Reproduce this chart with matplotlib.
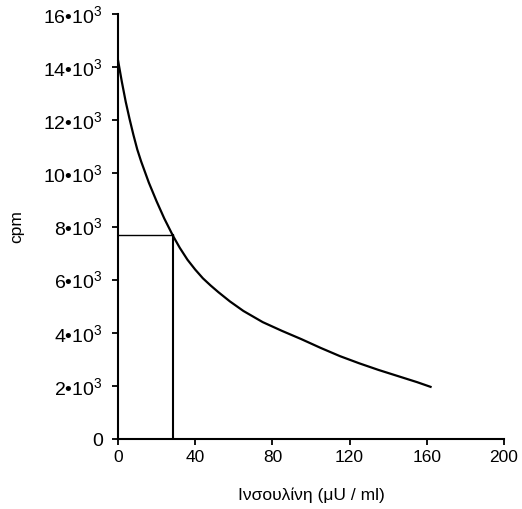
import matplotlib
matplotlib.use("Agg")
import matplotlib.pyplot as plt

plt.rcParams['font.family'] = ['Liberation Sans', 'DejaVu Sans']
plt.rcParams['mathtext.fontset'] = 'custom'
plt.rcParams['mathtext.rm'] = 'Liberation Sans'
plt.rcParams['mathtext.it'] = 'Liberation Sans'

# curve data (insulin µU/ml vs cpm)
insulin = [0, 2, 4, 6, 8, 10, 12, 14, 16, 18, 20, 24, 28.5, 32, 36, 40, 44, 48, 52,
           58, 65, 75, 85, 95, 105, 115, 125, 135, 145, 155, 162.5]
cpm = [14270, 13450, 12700, 12050, 11450, 10900, 10450, 10050, 9650, 9300, 8950,
       8300, 7650, 7200, 6750, 6380, 6050, 5780, 5530, 5180, 4820, 4400, 4070,
       3760, 3430, 3120, 2850, 2600, 2370, 2140, 1950]

# reading line for a sample
sample_x = 28.5
sample_y = 7680

x_ticks = [0, 40, 80, 120, 160, 200]
x_tick_labels = ['0', '40', '80', '120', '160', '200']
y_ticks = [0, 2000, 4000, 6000, 8000, 10000, 12000, 14000, 16000]
y_tick_labels = ['0', '2•10$^{3}$', '4•10$^{3}$', '6•10$^{3}$', '8•10$^{3}$',
                 '10•10$^{3}$', '12•10$^{3}$', '14•10$^{3}$', '16•10$^{3}$']

fig = plt.figure(figsize=(5.22, 5.09), dpi=100)
ax = fig.add_axes([0.226, 0.1375, 0.7395, 0.835])

ax.plot(insulin, cpm, color='black', lw=1.6, clip_on=False,
        solid_capstyle='butt', solid_joinstyle='round')
ax.plot([0, sample_x], [sample_y, sample_y], color='black', lw=1.0)
ax.plot([sample_x, sample_x], [0, sample_y], color='black', lw=1.5)

ax.set_xlim(0, 200)
ax.set_ylim(0, 16000)
ax.set_xticks(x_ticks)
ax.set_xticklabels(x_tick_labels)
ax.set_yticks(y_ticks)
ax.set_yticklabels(y_tick_labels)

for s in ['top', 'right']:
    ax.spines[s].set_visible(False)
for s in ['left', 'bottom']:
    ax.spines[s].set_linewidth(1.5)

ax.tick_params(axis='both', direction='out', length=4, width=1.3, colors='black')
ax.tick_params(axis='y', pad=7, labelsize=14)
ax.tick_params(axis='x', pad=4, labelsize=12.5)

ax.set_xlabel('Ινσουλίνη (μU / ml)', fontsize=12.5, labelpad=16)
ax.set_ylabel('cpm', fontsize=12.5, labelpad=14)

fig.savefig('out.png', dpi=100)
